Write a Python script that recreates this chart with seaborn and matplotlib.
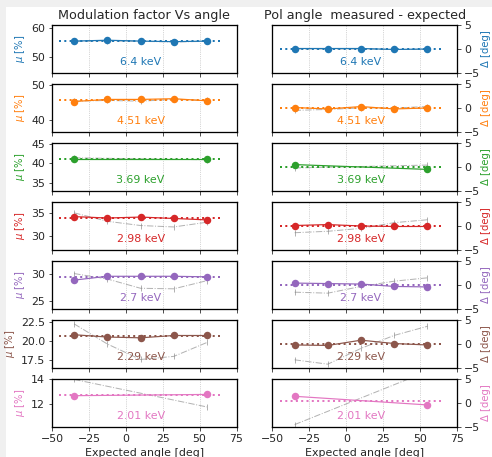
import numpy as np
import pandas as pd
import matplotlib
matplotlib.use("Agg")
import matplotlib.pyplot as plt
import seaborn as sns
from matplotlib.patches import Rectangle
from matplotlib.transforms import blended_transform_factory

# ---------------- data ----------------
energies = ["6.4 keV", "4.51 keV", "3.69 keV", "2.98 keV", "2.7 keV", "2.29 keV", "2.01 keV"]
angles5 = [-35, -12.5, 10, 32.5, 55]
angles2 = [-35, 55]

mu_6p4 = [55.5, 55.8, 55.5, 55.3, 55.5]
mu_4p51 = [45.2, 45.8, 45.8, 46.0, 45.4]
mu_3p69 = [41.0, 41.0]
mu_2p98 = [34.2, 33.9, 34.1, 33.8, 33.5]
mu_2p7 = [28.8, 29.5, 29.5, 29.5, 29.4]
mu_2p29 = [20.8, 20.5, 20.4, 20.7, 20.7]
mu_2p01 = [12.7, 12.8]

mu_mean = [55.5, 45.6, 41.1, 33.9, 29.4, 20.6, 12.75]

mu_ref_6p4 = [55.4, 55.6, 55.4, 55.2, 55.4]
mu_ref_4p51 = [45.3, 45.5, 45.3, 45.8, 45.5]
mu_ref_3p69 = [41.4, 40.9]
mu_ref_2p98 = [35.0, 33.2, 32.3, 32.0, 33.0]
mu_ref_2p7 = [30.0, 29.0, 27.3, 27.2, 28.7]
mu_ref_2p29 = [22.2, 19.6, 17.6, 18.0, 19.8]
mu_ref_2p01 = [14.0, 11.8]

d_6p4 = [0.1, 0.1, 0.1, -0.1, 0.0]
d_4p51 = [0.1, -0.2, 0.3, -0.2, 0.0]
d_3p69 = [0.5, -0.5]
d_2p98 = [0.1, 0.3, 0.0, -0.1, -0.1]
d_2p7 = [0.4, 0.3, 0.2, -0.3, -0.4]
d_2p29 = [-0.2, -0.3, 0.8, 0.1, -0.2]
d_2p01 = [1.4, -0.4]

d_mean = [0.0, 0.0, 0.0, 0.0, 0.0, 0.0, 0.5]

d_ref_6p4 = [0.0, 0.0, 0.0, -0.1, -0.1]
d_ref_4p51 = [-0.5, -0.3, 0.0, 0.0, 0.3]
d_ref_3p69 = [-0.2, 0.4]
d_ref_2p98 = [-1.4, -1.1, -0.5, 0.7, 1.3]
d_ref_2p7 = [-1.5, -1.7, -0.3, 0.8, 1.5]
d_ref_2p29 = [-3.3, -4.2, -0.9, 1.8, 3.7]
d_ref_2p01 = [-4.5, 6.6]

mu_ylims = [(44.4, 61.1), (36.5, 50.2), (32.9, 45.2), (27.1, 37.3), (23.5, 32.3), (16.5, 22.7), (10.2, 14.03)]
mu_yticks = [[50, 60], [40, 50], [35, 40, 45], [30, 35], [25, 30], [17.5, 20.0, 22.5], [12, 14]]
xticks = [-50, -25, 0, 25, 50, 75]

mu_series = [mu_6p4, mu_4p51, mu_3p69, mu_2p98, mu_2p7, mu_2p29, mu_2p01]
mu_refs = [mu_ref_6p4, mu_ref_4p51, mu_ref_3p69, mu_ref_2p98, mu_ref_2p7, mu_ref_2p29, mu_ref_2p01]
d_series = [d_6p4, d_4p51, d_3p69, d_2p98, d_2p7, d_2p29, d_2p01]
d_refs = [d_ref_6p4, d_ref_4p51, d_ref_3p69, d_ref_2p98, d_ref_2p7, d_ref_2p29, d_ref_2p01]

# ---------------- plot ----------------
sns.set_style("ticks")
plt.rcParams["font.family"] = ["DejaVu Sans"]
plt.rcParams["xtick.labelsize"] = 11
plt.rcParams["ytick.labelsize"] = 11
FS = 11
colors = sns.color_palette("tab10")

fig, axes = plt.subplots(7, 2, figsize=(492 / 72, 457 / 72), dpi=72)
fig.patch.set_facecolor("#f0f0f0")
fig.add_artist(Rectangle((6 / 492, 0), 1, 1 - 7 / 457, transform=fig.transFigure,
                         facecolor="white", edgecolor="none", zorder=-10))
fig.subplots_adjust(left=52 / 492, right=457 / 492, top=1 - 25 / 457, bottom=1 - 427 / 457,
                    wspace=0.195, hspace=0.23)


def draw(ax, xs, ys, refs, mean, color, label):
    ax.grid(axis="x", color="#b0b0b0", lw=0.7, ls=":")
    ax.plot(xs, refs, ls="-.", color="gray", alpha=0.6, lw=1, marker="|", ms=6, zorder=2)
    df = pd.DataFrame({"x": xs, "y": ys})
    sns.lineplot(data=df, x="x", y="y", ax=ax, color=color, marker="o", markersize=7.5,
                 markeredgewidth=0, lw=1.2, alpha=1, zorder=3)
    ax.hlines(mean, -45, 65, colors=[color], linestyles=":", lw=2, zorder=4)
    tr = blended_transform_factory(ax.transData, ax.transAxes)
    ax.text(10, 0.22, label, color=color, ha="center", va="center", fontsize=FS, transform=tr)
    ax.set_xlim(-50, 75)
    ax.set_xticks(xticks)
    ax.set_xlabel("")
    for s in ax.spines.values():
        s.set_linewidth(1.3)
        s.set_color("black")


for i in range(7):
    c = colors[i]
    xs = angles5 if len(mu_series[i]) == 5 else angles2
    axl = axes[i, 0]
    draw(axl, xs, mu_series[i], mu_refs[i], mu_mean[i], c, energies[i])
    axl.set_ylim(*mu_ylims[i])
    axl.set_yticks(mu_yticks[i])
    axl.set_ylabel("$\\mu$ [%]", color=c, fontsize=10)

    axr = axes[i, 1]
    draw(axr, xs, d_series[i], d_refs[i], d_mean[i], c, energies[i])
    axr.set_ylim(-5, 5)
    axr.set_yticks([-5, 0, 5])
    axr.yaxis.tick_right()
    axr.yaxis.set_label_position("right")
    axr.set_ylabel("Δ [deg]", color=c, fontsize=10, labelpad=1)

    if i < 6:
        axl.set_xticklabels([])
        axr.set_xticklabels([])
    else:
        axl.set_xlabel("Expected angle [deg]", fontsize=FS)
        axr.set_xlabel("Expected angle [deg]", fontsize=FS)

axes[0, 0].set_title("Modulation factor Vs angle", fontsize=12.7)
axes[0, 1].set_title("Pol angle  measured - expected", fontsize=12.7)

fig.savefig("out.png", dpi=72, facecolor=fig.get_facecolor())
